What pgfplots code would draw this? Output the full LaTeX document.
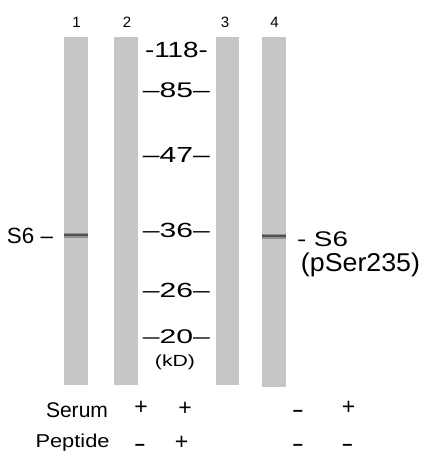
\documentclass[border=0pt]{standalone}
\usepackage{pgfplots}
\pgfplotsset{compat=1.18}
\usepackage{fontspec}
\setmainfont{Liberation Sans}
\usepackage{graphicx}
\definecolor{lane}{RGB}{198,198,198}
\definecolor{bandhalo}{RGB}{145,145,145}
\definecolor{bandcore}{RGB}{80,80,80}
\definecolor{txt}{RGB}{20,20,20}
\newcommand{\T}[3]{\resizebox*{#1pt}{#2pt}{#3}}
% plus and minus, boxed tightly round their ink and centred on it
\newcommand{\Plus}{\raisebox{-8.1pt}[6pt][6pt]{\fontsize{23}{23}\selectfont +}}
\newcommand{\Minus}{\raisebox{-4.3pt}[1.2pt][1.2pt]{\scalebox{2.2}[1]{\fontsize{16}{16}\selectfont\bfseries -}}}
\begin{document}
\begin{tikzpicture}
\begin{axis}[
  scale only axis, width=423pt, height=453pt,
  xmin=0, xmax=423, ymin=0, ymax=453, y dir=reverse,
  hide axis, clip=false,
  every node/.style={inner sep=0pt, outer sep=0pt, text=txt}]
% lanes
\addplot[fill=lane, draw=none] coordinates {(64,37) (88,37) (88,385) (64,385)} -- cycle;
\addplot[fill=lane, draw=none] coordinates {(114,37) (138,37) (138,385) (114,385)} -- cycle;
\addplot[fill=lane, draw=none] coordinates {(216,37) (239,37) (239,385) (216,385)} -- cycle;
\addplot[fill=lane, draw=none] coordinates {(262,37) (286,37) (286,387) (262,387)} -- cycle;
% bands
\addplot[bandhalo, line width=5pt] coordinates {(64,235) (88,235)};
\addplot[bandcore, line width=2.4pt] coordinates {(64,235) (88,235)};
\addplot[bandhalo, line width=5pt] coordinates {(262,236) (286,236)};
\addplot[bandcore, line width=2.4pt] coordinates {(262,236) (286,236)};
% lane numbers
\node at (axis cs:76.5,22.5) {\fontsize{15}{15}\selectfont 1};
\node at (axis cs:127,22.5) {\fontsize{15}{15}\selectfont 2};
\node at (axis cs:225,22.5) {\fontsize{15}{15}\selectfont 3};
\node at (axis cs:274.5,22.5) {\fontsize{15}{15}\selectfont 4};
% markers
\node at (axis cs:176.5,50) {\T{63}{15.5}{-118-}};
\node at (axis cs:176.5,90.5) {\T{67}{15}{–85–}};
\node at (axis cs:176.5,155) {\T{67}{15}{–47–}};
\node at (axis cs:176.5,230) {\T{67}{14.5}{–36–}};
\node at (axis cs:176.5,290) {\T{67}{14.5}{–26–}};
\node at (axis cs:176.5,336.5) {\T{67}{14}{–20–}};
\node at (axis cs:175,362.5) {\T{40}{15}{(kD)}};
% protein labels
\node at (axis cs:30,235.5) {\T{46}{15.6}{S6 –}};
\node at (axis cs:322.5,239.5) {\T{51}{15}{- S6}};
\node at (axis cs:360.5,265) {\T{119}{24}{(pSer235)}};
% treatment rows
\node at (axis cs:77,410.5) {\T{62}{15}{Serum}};
\node[anchor=base west] at (axis cs:32,447.5) {\resizebox{74pt}{13.5pt}{Peptide}};
\node at (axis cs:141,406) {\Plus};
\node at (axis cs:185,407) {\Plus};
\node at (axis cs:348.5,406) {\Plus};
\node at (axis cs:181.5,441) {\Plus};
\node at (axis cs:298,411) {\Minus};
\node at (axis cs:140,445) {\Minus};
\node at (axis cs:298,445) {\Minus};
\node at (axis cs:347.5,445) {\Minus};
\end{axis}
\pgfresetboundingbox
\useasboundingbox (current axis.south west) rectangle (current axis.north east);
\end{tikzpicture}
\end{document}
